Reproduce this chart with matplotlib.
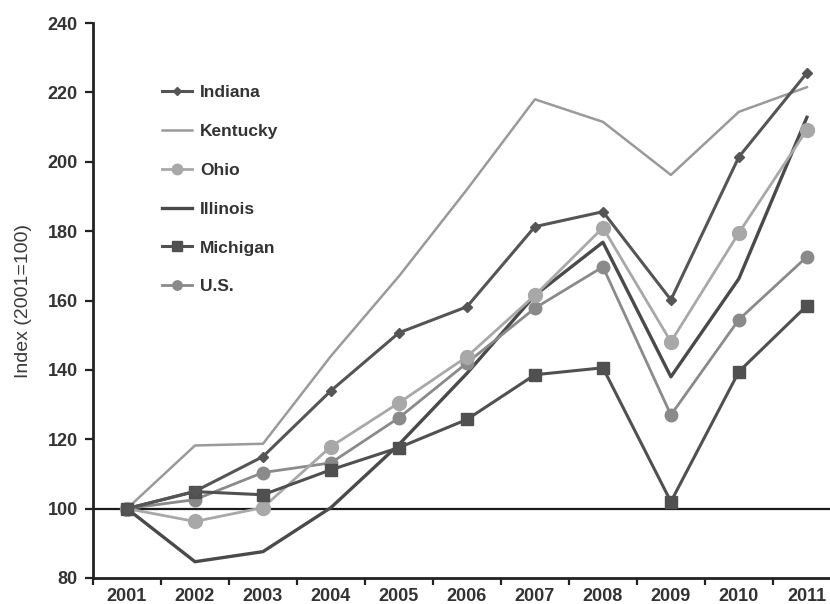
import matplotlib
matplotlib.use("Agg")
import matplotlib.pyplot as plt
from matplotlib.ticker import FixedLocator

plt.rcParams["font.family"] = ["Liberation Sans", "DejaVu Sans"]

years = ["2001", "2002", "2003", "2004", "2005", "2006", "2007", "2008", "2009", "2010", "2011"]

indiana = [100, 105, 115, 134, 150.7, 158.2, 181.3, 185.6, 160.2, 201.4, 225.6]
kentucky = [100, 118.2, 118.7, 144, 167, 192, 218, 211.5, 196.2, 214.4, 221.5]
ohio = [100, 96.3, 100.3, 117.9, 130.5, 143.8, 161.5, 181, 148.1, 179.5, 209.2]
illinois = [100, 84.7, 87.6, 100.3, 118.5, 139, 161.5, 176.8, 138, 166.3, 212.8]
michigan = [100, 104.9, 104, 111.2, 117.6, 125.7, 138.6, 140.6, 102, 139.5, 158.5]
us = [100, 102.6, 110.4, 113.2, 126.2, 142, 157.8, 169.7, 127, 154.5, 172.6]

yticks = [80, 100, 120, 140, 160, 180, 200, 220, 240]

fig = plt.figure(figsize=(8.3, 6.04), dpi=100)
ax = fig.add_axes([93 / 830, 26 / 604, 737 / 830, 555 / 604])

x = list(range(1, len(years) + 1))

ax.axhline(100, color="#1a1a1a", lw=1.6, zorder=1)

ax.plot(x, kentucky, color="#9a9a9a", lw=1.8, label="Kentucky", zorder=2)
ax.plot(x, illinois, color="#4a4a4a", lw=2.4, label="Illinois", zorder=3)
ax.plot(x, us, color="#8a8a8a", lw=2.0, marker="o", ms=9, mec="#8a8a8a", label="U.S.", zorder=3)
ax.plot(x, ohio, color="#a8a8a8", lw=2.0, marker="o", ms=10, mec="#a8a8a8", label="Ohio", zorder=4)
ax.plot(x, michigan, color="#505050", lw=2.2, marker="s", ms=9, mec="#505050", label="Michigan", zorder=4)
ax.plot(x, indiana, color="#555555", lw=2.2, marker="D", ms=5.5, mec="#555555", label="Indiana", zorder=5)

ax.set_xlim(0.5, 11.34)
ax.set_ylim(80, 240)
ax.set_yticks(yticks)
ax.set_xticks(x)
ax.set_xticklabels(years)
ax.xaxis.set_minor_locator(FixedLocator([i + 0.5 for i in range(0, 11)]))
ax.tick_params(axis="x", which="major", length=0, pad=7)
ax.tick_params(axis="x", which="minor", length=5, width=1.6, direction="out", color="#222222")
ax.tick_params(axis="y", length=6, width=1.6, direction="out", color="#222222", pad=5)
for lab in ax.get_xticklabels() + ax.get_yticklabels():
    lab.set_fontsize(13)
    lab.set_fontweight("bold")
    lab.set_color("#333333")

for side in ("top", "right"):
    ax.spines[side].set_visible(False)
for side in ("left", "bottom"):
    ax.spines[side].set_linewidth(2.0)
    ax.spines[side].set_color("#222222")

ax.set_ylabel("Index (2001=100)", fontsize=14, color="#3a3a3a")
ax.yaxis.set_label_coords(-61 / 737, (604 - 26 - 301) / 555)

handles, labels = ax.get_legend_handles_labels()
order = ["Indiana", "Kentucky", "Ohio", "Illinois", "Michigan", "U.S."]
hmap = dict(zip(labels, handles))
leg = fig.legend([hmap[k] for k in order], order, loc="upper left",
                 bbox_to_anchor=(146 / 830, 1 - 69 / 604), frameon=False,
                 handlelength=1.75, handletextpad=0.45, labelspacing=1.37,
                 markerscale=0.75, prop={"size": 12.5, "weight": "bold"})
for t in leg.get_texts():
    t.set_color("#333333")

fig.savefig("out.png", dpi=100)
